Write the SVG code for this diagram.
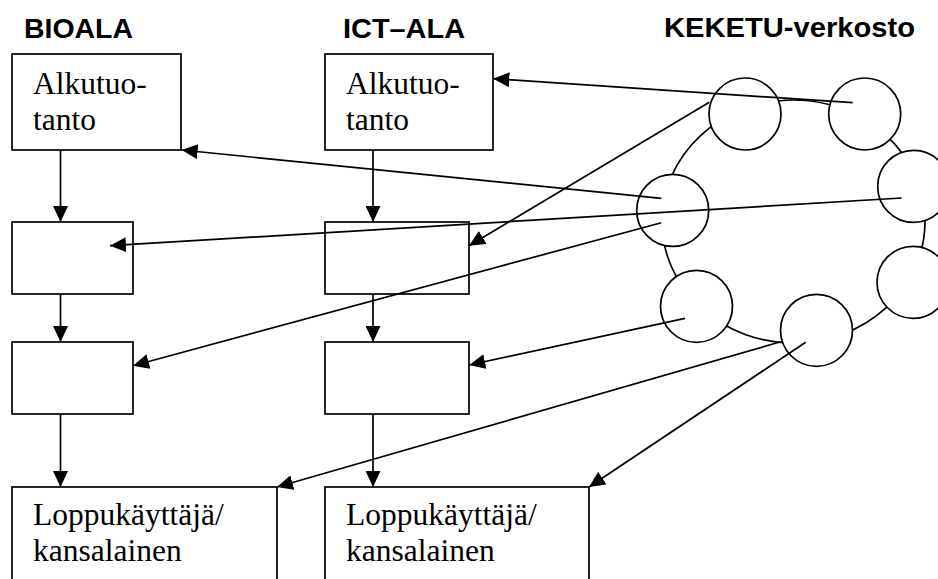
<svg xmlns="http://www.w3.org/2000/svg" width="938" height="579" viewBox="0 0 938 579">
  <style>
    .box { fill: none; stroke: #000; stroke-width: 1.7; }
    .node { fill: #fff; stroke: #000; stroke-width: 1.7; }
    .ring { fill: none; stroke: #000; stroke-width: 1.7; }
    .edge { fill: none; stroke: #000; stroke-width: 1.7; marker-end: url(#arrow); }
    .head { font-family: "Liberation Sans", Arial, sans-serif; font-weight: bold; font-size: 27px; fill: #000; }
    .label { font-family: "Liberation Serif", "Times New Roman", serif; font-size: 31.5px; fill: #000; }
  </style>
  <defs>
    <marker id="arrow" markerUnits="userSpaceOnUse" markerWidth="17" markerHeight="15" refX="16" refY="7.5" orient="auto">
      <path d="M0,0 L16,7.5 L0,15 z" fill="#000"/>
    </marker>
  </defs>
  <rect width="938" height="579" fill="#fff"/>

  <!-- column headings -->
  <g id="headings">
    <text class="head" x="24" y="38" textLength="109" lengthAdjust="spacingAndGlyphs">BIOALA</text>
    <text class="head" x="343" y="38" textLength="122" lengthAdjust="spacingAndGlyphs">ICT–ALA</text>
    <text class="head" x="664" y="37" textLength="251" lengthAdjust="spacingAndGlyphs">KEKETU-verkosto</text>
  </g>

  <!-- KEKETU network: ring with member circles -->
  <g id="network">
    <ellipse class="ring" cx="793.5" cy="221.5" rx="131.5" ry="121.5"/>
    <g id="n1"><circle class="node" cx="745" cy="114" r="36"/></g>
    <g id="n2"><circle class="node" cx="864.7" cy="114" r="36"/></g>
    <g id="n3"><circle class="node" cx="672.7" cy="210.4" r="36"/></g>
    <g id="n4"><circle class="node" cx="913.7" cy="186.4" r="36"/></g>
    <g id="n5"><circle class="node" cx="913" cy="282.3" r="36"/></g>
    <g id="n6"><circle class="node" cx="696.5" cy="306.3" r="36"/></g>
    <g id="n7"><circle class="node" cx="816.5" cy="330.3" r="36"/></g>
  </g>

  <!-- BIOALA chain -->
  <g id="bio-alkutuotanto">
    <rect class="box" x="12" y="54" width="169" height="96"/>
    <text class="label" x="33" y="94">Alkutuo-</text>
    <text class="label" x="33" y="130">tanto</text>
  </g>
  <g id="bio-step1"><rect class="box" x="12" y="222" width="121" height="72"/></g>
  <g id="bio-step2"><rect class="box" x="12" y="342" width="121" height="72"/></g>
  <g id="bio-loppukayttaja">
    <rect class="box" x="12" y="487" width="265" height="100"/>
    <text class="label" x="33" y="525">Loppukäyttäjä/</text>
    <text class="label" x="33" y="561">kansalainen</text>
  </g>

  <!-- ICT-ALA chain -->
  <g id="ict-alkutuotanto">
    <rect class="box" x="325" y="54" width="168" height="96"/>
    <text class="label" x="346" y="94">Alkutuo-</text>
    <text class="label" x="346" y="130">tanto</text>
  </g>
  <g id="ict-step1"><rect class="box" x="325" y="222" width="144" height="72"/></g>
  <g id="ict-step2"><rect class="box" x="325" y="342" width="144" height="72"/></g>
  <g id="ict-loppukayttaja">
    <rect class="box" x="325" y="487" width="264" height="100"/>
    <text class="label" x="346" y="525">Loppukäyttäjä/</text>
    <text class="label" x="346" y="561">kansalainen</text>
  </g>

  <!-- connectors -->
  <g id="connectors">
    <line class="edge" x1="60.5" y1="150" x2="60.5" y2="222"/>
    <line class="edge" x1="60.5" y1="294" x2="60.5" y2="342"/>
    <line class="edge" x1="60.5" y1="414" x2="60.5" y2="487"/>
    <line class="edge" x1="373" y1="150" x2="373" y2="222"/>
    <line class="edge" x1="373" y1="294" x2="373" y2="342"/>
    <line class="edge" x1="373" y1="414" x2="373" y2="487"/>

    <line class="edge" x1="852.7" y1="102.7" x2="493.3" y2="78.7"/>
    <line class="edge" x1="661.3" y1="198.3" x2="181.7" y2="150"/>
    <line class="edge" x1="709.3" y1="102.3" x2="469" y2="245.7"/>
    <line class="edge" x1="901.7" y1="198" x2="110" y2="245.7"/>
    <line class="edge" x1="661.3" y1="222.7" x2="133" y2="365.7"/>
    <line class="edge" x1="685" y1="318.3" x2="469.3" y2="365"/>
    <line class="edge" x1="780.7" y1="341.7" x2="277" y2="487"/>
    <line class="edge" x1="805.7" y1="342.3" x2="589" y2="487"/>
  </g>
</svg>
